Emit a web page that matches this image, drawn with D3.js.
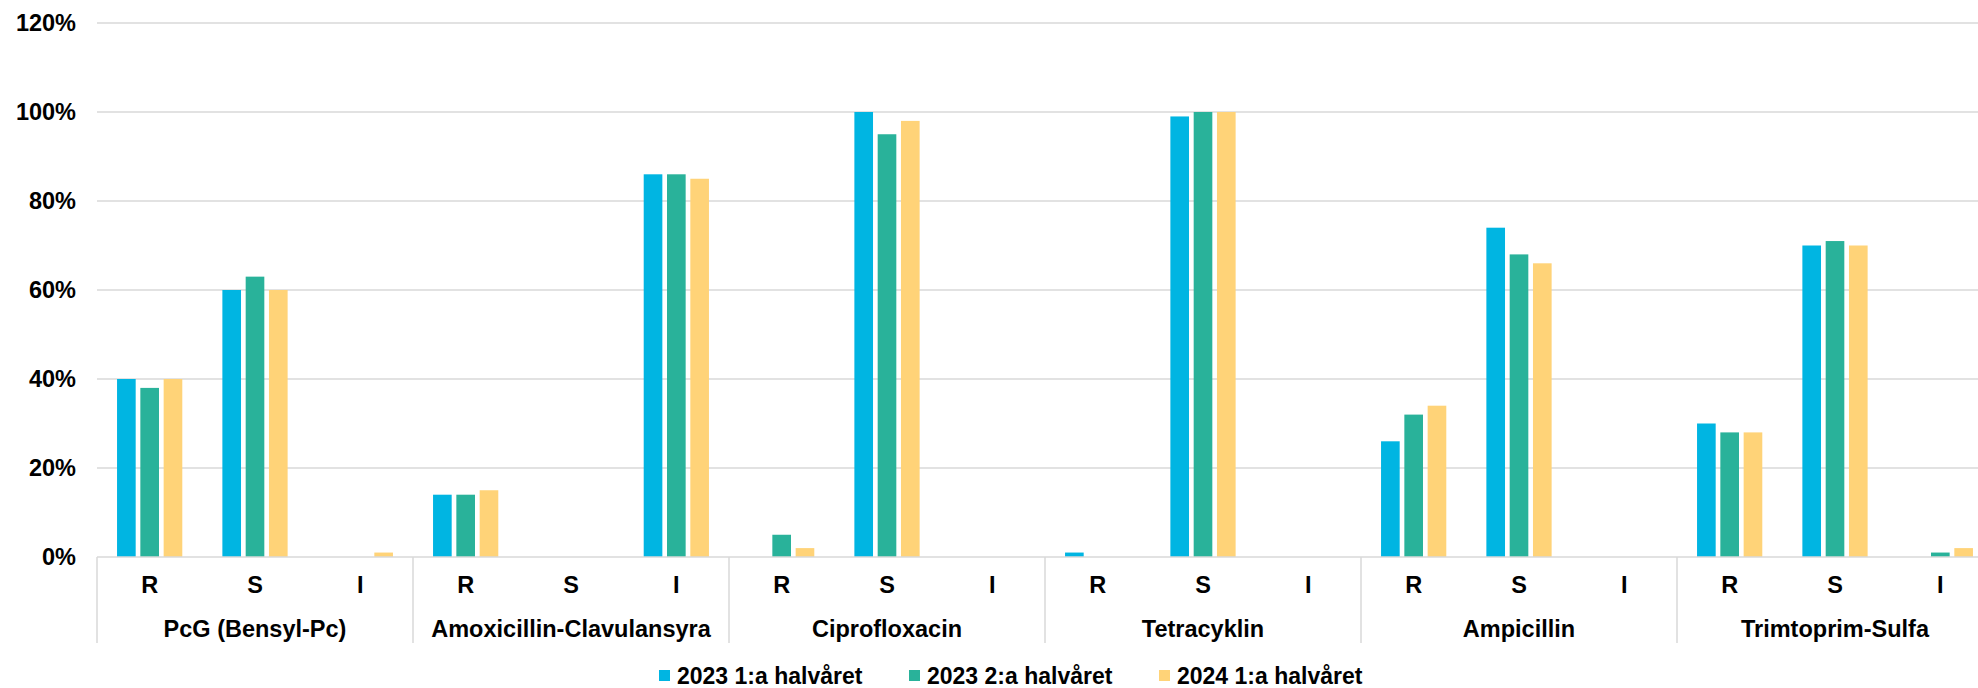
<!DOCTYPE html>
<html>
<head>
<meta charset="utf-8">
<script src="https://cdn.jsdelivr.net/npm/d3@7"></script>
<style>
  html, body { margin: 0; padding: 0; background: #fff; }
  svg { display: block; }
  text { font-family: "Liberation Sans", Arial, sans-serif; font-weight: bold; fill: #000; }
</style>
</head>
<body>
<svg id="chart" width="1978" height="688"></svg>
<script>
// ---- data ----
const groups = ["PcG (Bensyl-Pc)", "Amoxicillin-Clavulansyra", "Ciprofloxacin", "Tetracyklin", "Ampicillin", "Trimtoprim-Sulfa"];
const subcats = ["R", "S", "I"];
const seriesNames = ["2023 1:a halvåret", "2023 2:a halvåret", "2024 1:a halvåret"];
// values per series, in order group x subcat (R,S,I), in percent
const s2023h1 = [40, 60, 0,  14, 0, 86,  0, 100, 0,  1, 99, 0,   26, 74, 0,  30, 70, 0];
const s2023h2 = [38, 63, 0,  14, 0, 86,  5, 95, 0,   0, 100, 0,  32, 68, 0,  28, 71, 1];
const s2024h1 = [40, 60, 1,  15, 0, 85,  2, 98, 0,   0, 100, 0,  34, 66, 0,  28, 70, 2];
const yTicks = [0, 20, 40, 60, 80, 100, 120];
const colors = ["#00B5E2", "#29B29A", "#FFD378"];

(function () {
const series = [s2023h1, s2023h2, s2024h1];

const svg = d3.select("#chart");
const pLeft = 97, pRight = 1993, pTop = 23, pBottom = 557;

const keys = [];
groups.forEach((g, gi) => subcats.forEach((s, si) => keys.push(gi + "|" + s)));

const x0 = d3.scaleBand().domain(keys).range([pLeft, pRight]).paddingInner(0).paddingOuter(0);
const xg = d3.scaleBand().domain(groups).range([pLeft, pRight]).padding(0);
const x1 = d3.scaleBand().domain(d3.range(series.length)).range([0, x0.bandwidth()])
  .paddingInner(0.2).paddingOuter(0.86);
const y = d3.scaleLinear().domain([0, 120]).range([pBottom, pTop]);

// gridlines
svg.append("g").selectAll("line").data(yTicks.filter(d => d > 0)).join("line")
  .attr("x1", pLeft).attr("x2", 1978)
  .attr("y1", d => y(d)).attr("y2", d => y(d))
  .attr("stroke", "#d9d9d9").attr("stroke-width", 1.5);

// y labels
svg.append("g").selectAll("text").data(yTicks).join("text")
  .attr("x", 76).attr("y", d => y(d)).attr("dy", "0.36em")
  .attr("text-anchor", "end").attr("font-size", 23.5)
  .text(d => d + "%");

// bars
series.forEach((vals, si) => {
  svg.append("g").selectAll("rect").data(vals).join("rect")
    .attr("x", (d, i) => x0(keys[i]) + x1(si))
    .attr("width", x1.bandwidth())
    .attr("y", d => y(d))
    .attr("height", d => pBottom - y(d))
    .attr("fill", colors[si]);
});

// baseline axis
svg.append("line").attr("x1", pLeft).attr("x2", 1978).attr("y1", pBottom).attr("y2", pBottom)
  .attr("stroke", "#d9d9d9").attr("stroke-width", 1.5);

// group separators
svg.append("g").selectAll("line").data(groups).join("line")
  .attr("x1", d => xg(d)).attr("x2", d => xg(d))
  .attr("y1", pBottom).attr("y2", 643)
  .attr("stroke", "#d9d9d9").attr("stroke-width", 1.5);

// subcategory labels
svg.append("g").selectAll("text").data(keys).join("text")
  .attr("x", d => x0(d) + x0.bandwidth() / 2).attr("y", 593)
  .attr("text-anchor", "middle").attr("font-size", 23.5)
  .text(d => d.split("|")[1]);

// group labels
svg.append("g").selectAll("text").data(groups).join("text")
  .attr("x", d => xg(d) + xg.bandwidth() / 2).attr("y", 637)
  .attr("text-anchor", "middle").attr("font-size", 23.5)
  .text(d => d);

// legend
const legX = [659, 909, 1159];
const leg = svg.append("g").selectAll("g").data(seriesNames).join("g")
  .attr("transform", (d, i) => `translate(${legX[i]},675.5)`);
leg.append("rect").attr("x", 0).attr("y", -5.5).attr("width", 11).attr("height", 11)
  .attr("fill", (d, i) => colors[i]);
leg.append("text").attr("x", 18).attr("y", 0).attr("dy", "0.36em")
  .attr("font-size", 23).text(d => d);
})();
</script>
</body>
</html>
